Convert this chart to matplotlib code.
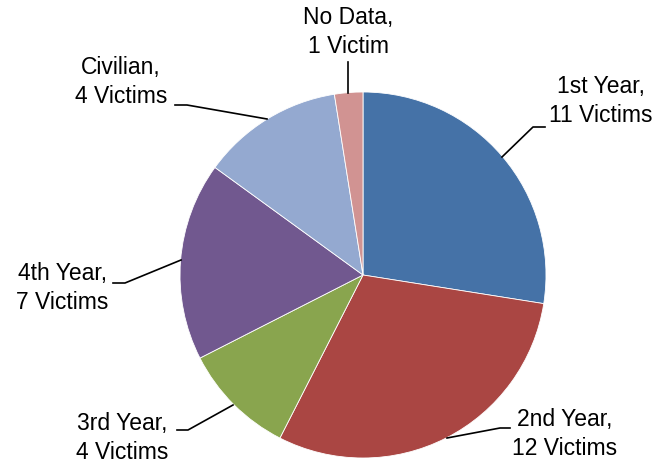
import matplotlib
matplotlib.use('Agg')
import matplotlib.pyplot as plt

labels = ['1st Year', '2nd Year', '3rd Year', '4th Year', 'Civilian', 'No Data']
# counts as printed in the labels
victims = [11, 12, 4, 7, 4, 1]
# slice sizes as drawn in the picture (the Civilian slice is drawn as 5 of 40)
shares = [11, 12, 4, 7, 5, 1]
colors = ['#4572A7', '#AA4643', '#89A54E', '#71588F', '#94A9D0', '#D19392']

plt.rcParams['font.family'] = ['Liberation Sans', 'DejaVu Sans']

W, H = 659, 468
fig = plt.figure(figsize=(W / 100, H / 100), dpi=100)
ax = fig.add_axes([0, 0, 1, 1])

# y axis is flipped below, so counterclock=True shows as clockwise from the top
ax.pie(shares, colors=colors, startangle=-90, counterclock=True,
       center=(363, 275), radius=183, frame=True,
       wedgeprops=dict(edgecolor='white', linewidth=0.6))
ax.set_xlim(0, W)
ax.set_ylim(H, 0)
ax.axis('off')


def word(n):
    return 'Victim' if n == 1 else 'Victims'


# label centre and leader line points, in pixels from top-left
spots = {
    '1st Year': ((601, 101), [(545, 127), (533, 127), (502, 157)]),
    '2nd Year': ((565, 434), [(510, 428), (500, 428), (447, 438)]),
    '3rd Year': ((122, 438), [(177, 430), (188, 430), (233, 405)]),
    '4th Year': ((62, 288), [(113, 283), (125, 283), (181, 260)]),
    'Civilian': ((121, 82), [(175, 105), (187, 105), (267, 119)]),
    'No Data': ((348, 32), [(348, 62), (348, 93)]),
}

for lab, n in zip(labels, victims):
    (tx, ty), pts = spots[lab]
    ax.text(tx, ty, f'{lab},\n{n} {word(n)}', ha='center', va='center',
            fontsize=16.5, linespacing=1.35, color='black')
    xs = [p[0] for p in pts]
    ys = [p[1] for p in pts]
    ax.plot(xs, ys, color='black', linewidth=1.2)

fig.savefig('out.png', dpi=100)
